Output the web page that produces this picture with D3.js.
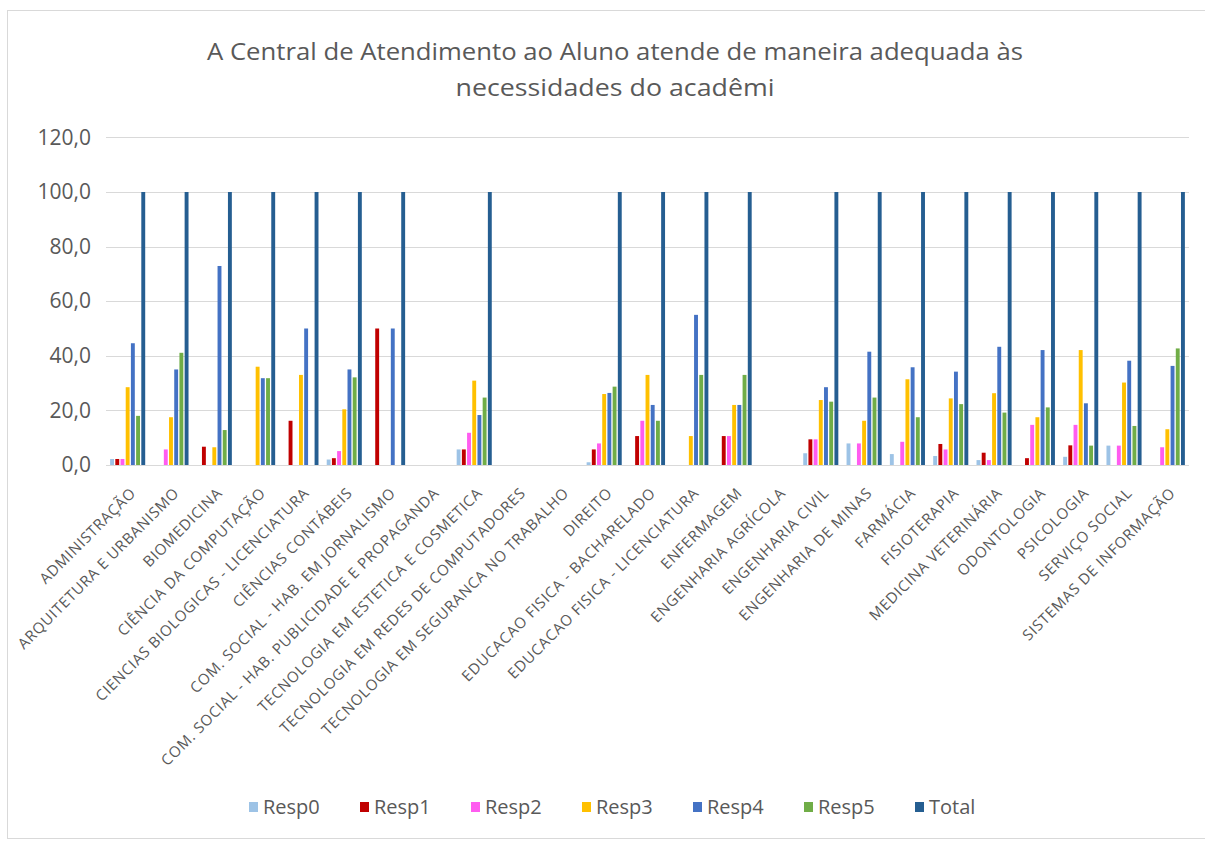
<!DOCTYPE html>
<html>
<head>
<meta charset="utf-8">
<script src="https://cdn.jsdelivr.net/npm/d3@7"></script>
<style>
  body { margin: 0; background: #ffffff; }
  svg text { font-family: 'Open Sans', 'Noto Sans', sans-serif; fill: #595959; }
</style>
</head>
<body>
<svg id="chart" width="1205" height="841"></svg>
<script>
// Course names (x categories)
const categories = [
  "ADMINISTRAÇÃO",
  "ARQUITETURA E URBANISMO",
  "BIOMEDICINA",
  "CIÊNCIA DA COMPUTAÇÃO",
  "CIENCIAS BIOLOGICAS - LICENCIATURA",
  "CIÊNCIAS CONTÁBEIS",
  "COM. SOCIAL - HAB. EM JORNALISMO",
  "COM. SOCIAL - HAB. PUBLICIDADE E PROPAGANDA",
  "TECNOLOGIA EM ESTETICA E COSMETICA",
  "TECNOLOGIA EM REDES DE COMPUTADORES",
  "TECNOLOGIA EM SEGURANCA NO TRABALHO",
  "DIREITO",
  "EDUCACAO FISICA - BACHARELADO",
  "EDUCACAO FISICA - LICENCIATURA",
  "ENFERMAGEM",
  "ENGENHARIA AGRÍCOLA",
  "ENGENHARIA CIVIL",
  "ENGENHARIA DE MINAS",
  "FARMÁCIA",
  "FISIOTERAPIA",
  "MEDICINA VETERINÁRIA",
  "ODONTOLOGIA",
  "PSICOLOGIA",
  "SERVIÇO SOCIAL",
  "SISTEMAS DE INFORMAÇÃO"
];

const seriesNames = ["Resp0", "Resp1", "Resp2", "Resp3", "Resp4", "Resp5", "Total"];

// Percentages per answer option, one value per course
const resp0 = [2.2, 0, 0, 0, 0, 2.0, 0, 0, 5.7, 0, 0, 1.0, 0, 0, 0, 0, 4.3, 7.9, 4.0, 3.3, 1.8, 0, 3.0, 7.1, 0];
const resp1 = [2.2, 0, 6.7, 0, 16.2, 2.5, 50, 0, 5.7, 0, 0, 5.7, 10.6, 0, 10.6, 0, 9.4, 0, 0, 7.7, 4.5, 2.5, 7.2, 0, 0];
const resp2 = [2.2, 5.7, 0, 0, 0, 5.1, 0, 0, 11.8, 0, 0, 7.9, 16.2, 0, 10.6, 0, 9.4, 7.9, 8.5, 5.7, 1.8, 14.7, 14.7, 7.1, 6.5];
const resp3 = [28.5, 17.5, 6.5, 36.0, 33.0, 20.4, 0, 0, 30.9, 0, 0, 26.0, 33.0, 10.6, 22.0, 0, 23.8, 16.2, 31.4, 24.4, 26.3, 17.5, 42.1, 30.2, 13.1];
const resp4 = [44.6, 35.0, 72.9, 31.8, 50.0, 35.0, 50.0, 0, 18.3, 0, 0, 26.4, 22.0, 55.0, 22.0, 0, 28.5, 41.5, 35.8, 34.2, 43.3, 42.1, 22.6, 38.2, 36.3];
const resp5 = [18.0, 41.1, 12.8, 31.8, 0, 32.1, 0, 0, 24.7, 0, 0, 28.7, 16.2, 33.0, 33.0, 0, 23.2, 24.7, 17.5, 22.3, 19.2, 21.1, 7.1, 14.3, 42.7];
const total = [100, 100, 100, 100, 100, 100, 100, 0, 100, 0, 0, 100, 100, 100, 100, 0, 100, 100, 100, 100, 100, 100, 100, 100, 100];

const yTicks = [0, 20, 40, 60, 80, 100, 120];

const titleLines = [
  "A Central de Atendimento ao Aluno atende de maneira adequada às",
  "necessidades do acadêmi"
];

const colors = {
  Resp0: "#9DC3E6",
  Resp1: "#C00000",
  Resp2: "#FF5CF0",
  Resp3: "#FFC000",
  Resp4: "#4472C4",
  Resp5: "#70AD47",
  Total: "#255E91"
};

const seriesValues = { Resp0: resp0, Resp1: resp1, Resp2: resp2, Resp3: resp3, Resp4: resp4, Resp5: resp5, Total: total };

const rows = categories.map((c, i) => ({
  category: c,
  values: seriesNames.map(s => ({ key: s, value: seriesValues[s][i] }))
}));

const svg = d3.select("#chart");

// Chart frame
svg.append("rect")
  .attr("x", 7.5).attr("y", 10.5)
  .attr("width", 1210).attr("height", 828)
  .attr("fill", "#ffffff")
  .attr("stroke", "#D9D9D9");

const plot = { left: 106, right: 1189, top: 137.4, bottom: 465 };

const x0 = d3.scaleBand()
  .domain(categories)
  .range([plot.left, plot.right])
  .paddingInner(0.19)
  .paddingOuter(0.095);

const x1 = d3.scaleBand()
  .domain(seriesNames)
  .range([0, x0.bandwidth()])
  .paddingInner(0.25);

const y = d3.scaleLinear().domain([0, 120]).range([plot.bottom, plot.top]);

// Horizontal gridlines
svg.append("g")
  .selectAll("line")
  .data(yTicks)
  .join("line")
  .attr("x1", plot.left).attr("x2", plot.right)
  .attr("y1", d => Math.round(y(d)) + 0.5).attr("y2", d => Math.round(y(d)) + 0.5)
  .attr("stroke", "#D9D9D9")
  .attr("stroke-width", 1);

// Y axis labels
const fmt = d => d3.format(".1f")(d).replace(".", ",");
const yAxis = d3.axisLeft(y).tickValues(yTicks).tickFormat(fmt).tickSize(0).tickPadding(0);
const yg = svg.append("g").attr("transform", `translate(${plot.left - 15},0)`).call(yAxis);
yg.select(".domain").remove();
yg.selectAll("text")
  .attr("font-size", 21)
  .attr("fill", "#595959")
  .style("font-family", "'Open Sans', sans-serif");

// Bars
const groups = svg.append("g")
  .selectAll("g")
  .data(rows)
  .join("g")
  .attr("transform", d => `translate(${x0(d.category)},0)`);

groups.selectAll("rect")
  .data(d => d.values.filter(v => v.value > 0))
  .join("rect")
  .attr("x", d => x1(d.key))
  .attr("width", x1.bandwidth())
  .attr("y", d => y(d.value))
  .attr("height", d => y(0) - y(d.value))
  .attr("fill", d => colors[d.key]);

// X axis labels, rotated
const xAxis = d3.axisBottom(x0).tickSize(0).tickPadding(0);
const xg = svg.append("g").attr("transform", `translate(0,${plot.bottom})`).call(xAxis);
xg.select(".domain").remove();
xg.selectAll("text")
  .attr("font-size", 15)
  .attr("letter-spacing", "0.7px")
  .attr("fill", "#595959")
  .attr("text-anchor", "end")
  .attr("dy", 0)
  .attr("y", 0)
  .attr("transform", "translate(9,29) rotate(-45)")
  .style("font-family", "'Open Sans', sans-serif");

// Title
svg.append("g")
  .selectAll("text")
  .data(titleLines)
  .join("text")
  .attr("x", 615)
  .attr("y", (d, i) => 60 + i * 36)
  .attr("text-anchor", "middle")
  .attr("font-size", 24)
  .attr("textLength", (d, i) => i === 0 ? 816 : 319)
  .attr("lengthAdjust", "spacingAndGlyphs")
  .text(d => d);

// Legend
const legend = svg.append("g")
  .selectAll("g")
  .data(seriesNames)
  .join("g")
  .attr("transform", (d, i) => `translate(${249 + i * 111},807)`);

legend.append("rect")
  .attr("x", 0).attr("y", -5)
  .attr("width", 9).attr("height", 10)
  .attr("fill", d => colors[d]);

legend.append("text")
  .attr("x", 14)
  .attr("y", 0)
  .attr("dy", "0.35em")
  .attr("font-size", 20)
  .text(d => d);
</script>
</body>
</html>
